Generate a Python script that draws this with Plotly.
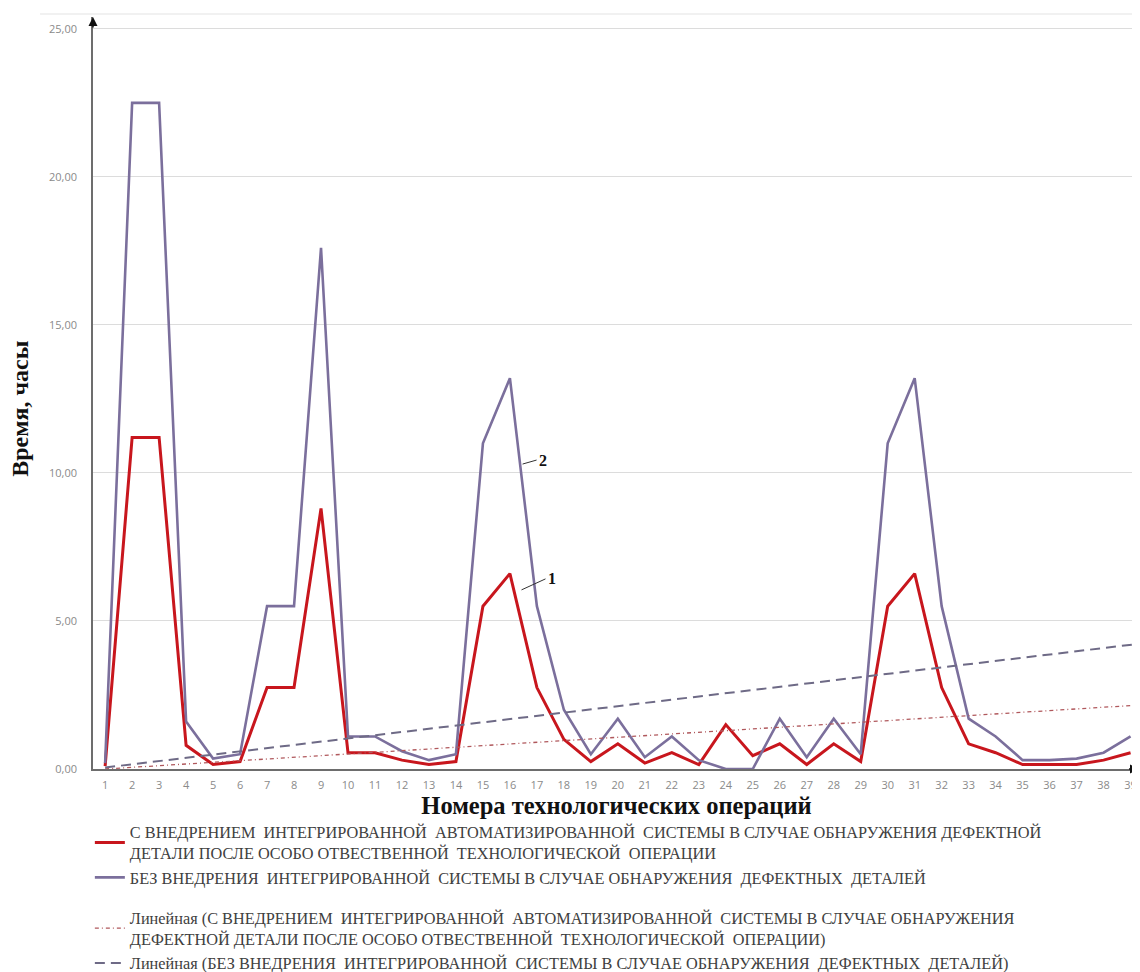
import plotly.graph_objects as go

operations = list(range(1, 40))
tick_labels = [str(i) for i in operations]

with_system = [0.1, 11.2, 11.2, 0.8, 0.15, 0.25, 2.75, 2.75, 8.8, 0.55,
               0.55, 0.3, 0.15, 0.25, 5.5, 6.6, 2.75, 1.0, 0.25, 0.85,
               0.2, 0.55, 0.15, 1.5, 0.45, 0.85, 0.15, 0.85, 0.25, 5.5,
               6.6, 2.75, 0.85, 0.55, 0.15, 0.15, 0.15, 0.3, 0.55]

without_system = [0.2, 22.5, 22.5, 1.6, 0.35, 0.5, 5.5, 5.5, 17.6, 1.1,
                  1.1, 0.6, 0.3, 0.5, 11.0, 13.2, 5.5, 2.0, 0.5, 1.7,
                  0.4, 1.1, 0.3, 0.0, 0.0, 1.7, 0.4, 1.7, 0.5, 11.0,
                  13.2, 5.5, 1.7, 1.1, 0.3, 0.3, 0.35, 0.55, 1.1]

# trend lines (start/end operation and values)
trend_x = [1, 39.5]
trend_with = [0.0, 2.17]
trend_without = [0.05, 4.25]

name_with = ("С ВНЕДРЕНИЕМ  ИНТЕГРИРОВАННОЙ  АВТОМАТИЗИРОВАННОЙ  СИСТЕМЫ В СЛУЧАЕ ОБНАРУЖЕНИЯ ДЕФЕКТНОЙ<br>"
             "ДЕТАЛИ ПОСЛЕ ОСОБО ОТВЕСТВЕННОЙ  ТЕХНОЛОГИЧЕСКОЙ  ОПЕРАЦИИ")
name_without = "БЕЗ ВНЕДРЕНИЯ  ИНТЕГРИРОВАННОЙ  СИСТЕМЫ В СЛУЧАЕ ОБНАРУЖЕНИЯ  ДЕФЕКТНЫХ  ДЕТАЛЕЙ"
name_trend_with = ("Линейная (С ВНЕДРЕНИЕМ  ИНТЕГРИРОВАННОЙ  АВТОМАТИЗИРОВАННОЙ  СИСТЕМЫ В СЛУЧАЕ ОБНАРУЖЕНИЯ<br>"
                   "ДЕФЕКТНОЙ ДЕТАЛИ ПОСЛЕ ОСОБО ОТВЕСТВЕННОЙ  ТЕХНОЛОГИЧЕСКОЙ  ОПЕРАЦИИ)")
name_trend_without = "Линейная (БЕЗ ВНЕДРЕНИЯ  ИНТЕГРИРОВАННОЙ  СИСТЕМЫ В СЛУЧАЕ ОБНАРУЖЕНИЯ  ДЕФЕКТНЫХ  ДЕТАЛЕЙ)"

RED = "#C8161D"
PURPLE = "#7B6F9C"

fig = go.Figure()
fig.add_trace(go.Scatter(x=operations, y=with_system, mode="lines", name=name_with,
                         line=dict(color=RED, width=3), legendgroup="a"))
fig.add_trace(go.Scatter(x=operations, y=without_system, mode="lines", name=name_without,
                         line=dict(color=PURPLE, width=2.6), legendgroup="a"))
fig.add_trace(go.Scatter(x=trend_x, y=trend_with, mode="lines", name=name_trend_with,
                         line=dict(color="#B0585C", width=1.3, dash="4px,3px,1px,3px"), legendgroup="b"))
fig.add_trace(go.Scatter(x=trend_x, y=trend_without, mode="lines", name=name_trend_without,
                         line=dict(color="#6E6A86", width=2, dash="10px,6px"), legendgroup="b"))

# page has an 8px body margin, so the figure is sized to end at the window edge
W, H = 1132, 964
L, R, T, B = 85, 0, 9, 203

fig.update_layout(
    width=W, height=H,
    margin=dict(l=L, r=R, t=T, b=B, autoexpand=False),
    paper_bgcolor="white", plot_bgcolor="white",
    showlegend=True,
    legend=dict(
        x=-0.003, xanchor="left", y=-0.061, yanchor="top",
        orientation="v", traceorder="grouped", tracegroupgap=16,
        font=dict(family="Liberation Serif", size=16.3, color="#404040"),
        bgcolor="rgba(0,0,0,0)", itemwidth=30,
    ),
    xaxis=dict(
        range=[0.55, 39.35], tickmode="array", tickvals=operations, ticktext=tick_labels,
        automargin=False,
        showgrid=False, zeroline=False, showline=True, linecolor="#6d6d6d", linewidth=1.5,
        ticks="", tickfont=dict(family="Open Sans", size=11, color="#8a8a8a"),
        ticklabelstandoff=5,
        title=dict(text="<b>Номера технологических операций</b>",
                   font=dict(family="Liberation Serif", size=24.5, color="#111111"), standoff=5),
    ),
    yaxis=dict(
        range=[0, 25.4], tickmode="array", tickvals=[0, 5, 10, 15, 20, 25],
        ticktext=["0,00", "5,00", "10,00", "15,00", "20,00", "25,00"],
        automargin=False,
        showgrid=True, gridcolor="#dcdcdc", gridwidth=1,
        zeroline=False, showline=True, linecolor="#6d6d6d", linewidth=1.5,
        ticks="", tickfont=dict(family="Open Sans", size=11, color="#8a8a8a"),
        ticklabelstandoff=12,
    ),
)

# y-axis title placed as rotated annotation
fig.add_annotation(xref="paper", yref="paper", x=-0.0697, y=0.479, xanchor="center", yanchor="middle",
                   text="<b>Время, часы</b>", textangle=-90, showarrow=False,
                   font=dict(family="Liberation Serif", size=24, color="#111111"))

# top border of chart area
fig.add_shape(type="line", xref="paper", yref="paper", x0=-0.0506, x1=1.0, y0=1.004, y1=1.004,
              line=dict(color="#e3e3e3", width=1))

# axis arrows
fig.add_annotation(xref="paper", yref="paper", x=0, y=1.0, ax=0, ay=12, text="",
                   showarrow=True, arrowhead=2, arrowsize=1.2, arrowwidth=1.5, arrowcolor="#111111")
fig.add_annotation(xref="paper", yref="paper", x=0.9995, y=0, ax=-12, ay=0, text="",
                   showarrow=True, arrowhead=2, arrowsize=1.2, arrowwidth=1.5, arrowcolor="#111111")

# curve labels
fig.add_annotation(x=16.47, y=10.3, ax=14, ay=-4, text="<b>2</b>", showarrow=True, arrowhead=0,
                   arrowwidth=1, arrowcolor="#333333", xanchor="left",
                   font=dict(family="Liberation Serif", size=16, color="#111111"))
fig.add_annotation(x=16.43, y=6.05, ax=24, ay=-11, text="<b>1</b>", showarrow=True, arrowhead=0,
                   arrowwidth=1, arrowcolor="#333333", xanchor="left",
                   font=dict(family="Liberation Serif", size=16, color="#111111"))

fig.write_html("out.html")
